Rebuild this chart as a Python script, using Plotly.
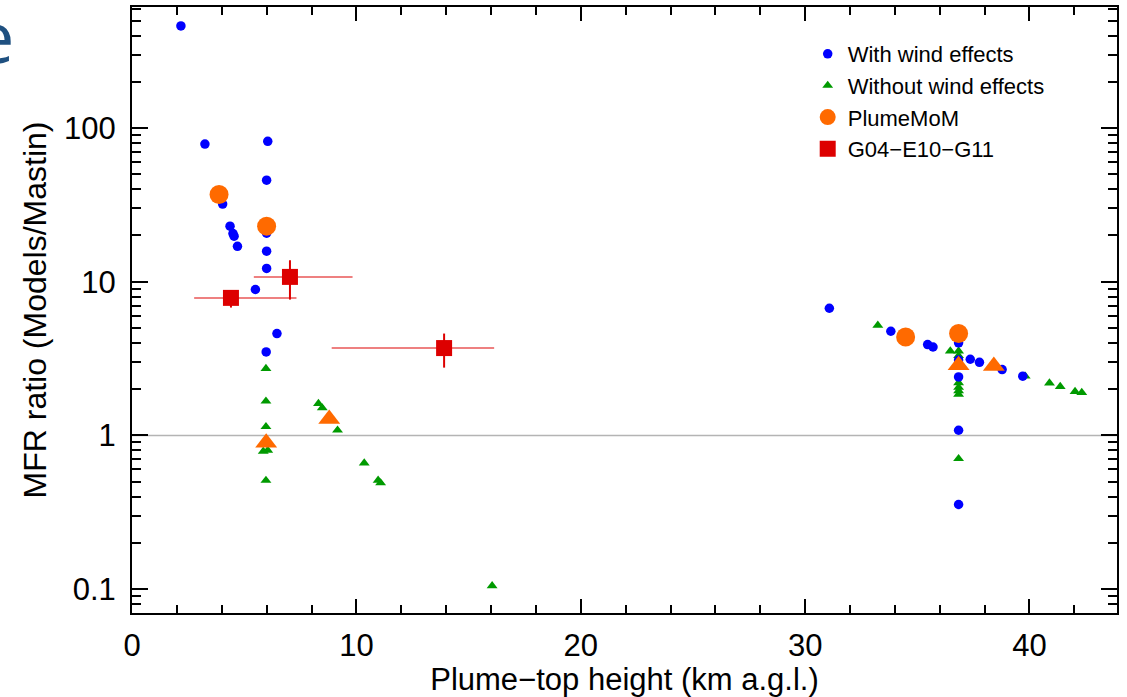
import plotly.graph_objects as go

# ---------------- data ----------------
wind_x = [2.18, 3.25, 4.04, 4.37, 4.5, 4.55, 4.7, 6.05, 6.0, 6.0, 6.0, 6.0, 5.5, 6.46, 5.98,
          31.08, 33.82, 35.46, 35.7, 36.84, 37.36, 37.77, 36.84, 36.84, 38.78, 39.7, 36.84, 36.84]
wind_y = [462, 78.7, 32, 23, 20.6, 19.8, 17, 82, 45.8, 20.7, 15.8, 12.2, 8.9, 4.6, 3.49,
          6.72, 4.76, 3.9, 3.76, 4.0, 3.13, 2.99, 3.09, 2.4, 2.68, 2.43, 1.08, 0.355]

nowind_x = [5.97, 5.97, 5.97, 5.85, 6.05, 5.97, 8.31, 8.48, 9.16, 10.35, 10.97, 11.08, 16.05,
            33.24, 36.47, 36.84, 36.84, 36.84, 36.84, 36.84, 36.84, 36.84,
            39.81, 40.89, 41.37, 42.03, 42.33]
nowind_y = [2.72, 1.67, 1.14, 0.787, 0.80, 0.509, 1.61, 1.51, 1.08, 0.66, 0.51, 0.49, 0.105,
            5.2, 3.54, 3.54, 3.3, 2.2, 2.05, 1.95, 1.85, 0.705,
            2.43, 2.19, 2.08, 1.93, 1.9]

plumemom_x = [3.88, 6.0, 34.48, 36.84]
plumemom_y = [37, 23, 4.37, 4.6]

plumemom_nw_x = [5.98, 8.79, 36.84, 38.41]
plumemom_nw_y = [0.896, 1.28, 2.86, 2.83]

g_x = [4.41, 7.04, 13.91]
g_y = [7.85, 10.75, 3.7]
g_x_lo = [2.77, 5.43, 8.9]
g_x_hi = [7.33, 9.83, 16.14]
g_y_lo = [6.79, 7.65, 2.76]
g_y_hi = [8.6, 13.8, 4.6]

y_tick_vals = [0.1, 1, 10, 100]
y_tick_text = ["0.1", "1", "10", "100"]
x_tick_vals = [0, 10, 20, 30, 40]

FONT = "Liberation Sans, Arial, Helvetica, sans-serif"

fig = go.Figure()

fig.add_trace(go.Scatter(
    x=nowind_x, y=nowind_y, mode="markers", name="Without wind effects", legendrank=2,
    marker=dict(symbol="triangle-up", size=9.5, color="#009a00", line=dict(width=0)),
))
fig.add_trace(go.Scatter(
    x=wind_x, y=wind_y, mode="markers", name="With wind effects", legendrank=1,
    marker=dict(symbol="circle", size=9.5, color="#0000ff", line=dict(width=0)),
))
fig.add_trace(go.Scatter(
    x=plumemom_x, y=plumemom_y, mode="markers", name="PlumeMoM", legendrank=3,
    marker=dict(symbol="circle", size=19, color="#ff6a00", line=dict(width=0)),
))
fig.add_trace(go.Scatter(
    x=plumemom_nw_x, y=plumemom_nw_y, mode="markers", name="PlumeMoM (no wind)", showlegend=False,
    marker=dict(symbol="triangle-up", size=19, color="#ff6a00", line=dict(width=0)),
))
fig.add_trace(go.Scatter(
    x=g_x, y=g_y, mode="markers", name="G04\u2212E10\u2212G11", legendrank=4,
    marker=dict(symbol="square", size=16, color="#dd0000", line=dict(width=0)),
    error_x=dict(type="data", symmetric=False,
                 array=[h - v for h, v in zip(g_x_hi, g_x)],
                 arrayminus=[v - l for l, v in zip(g_x_lo, g_x)],
                 color="rgba(225,30,30,0.75)", thickness=1.5, width=0),
    error_y=dict(type="data", symmetric=False,
                 array=[h - v for h, v in zip(g_y_hi, g_y)],
                 arrayminus=[v - l for l, v in zip(g_y_lo, g_y)],
                 color="#dd0000", thickness=2, width=0),
))

minor_y = [d * 10 ** e for e in range(-2, 3) for d in range(2, 10)]

fig.update_xaxes(
    range=[0, 43.9], tickvals=x_tick_vals, ticks="inside", ticklen=14, tickwidth=1.5,
    tickcolor="black", showline=True, linewidth=2, linecolor="black", mirror="allticks",
    showgrid=False, zeroline=False,
    minor=dict(dtick=2, tick0=0, ticks="inside", ticklen=8, tickwidth=1.5, tickcolor="black", showgrid=False),
    tickfont=dict(family=FONT, size=31, color="black"), ticklabelstandoff=4,
    title=dict(text="Plume\u2212top height (km a.g.l.)", font=dict(family=FONT, size=31, color="black"), standoff=10),
)
fig.update_yaxes(
    type="log", range=[-1.156, 2.788], tickvals=y_tick_vals, ticktext=y_tick_text,
    ticks="inside", ticklen=16, tickwidth=1.5, tickcolor="black",
    showline=True, linewidth=2, linecolor="black", mirror="allticks",
    showgrid=False, zeroline=False,
    minor=dict(tickvals=minor_y, ticks="inside", ticklen=9, tickwidth=1.5, tickcolor="black", showgrid=False),
    tickfont=dict(family=FONT, size=31, color="black"), ticklabelstandoff=8,
    title=dict(text="MFR ratio (Models/Mastin)", font=dict(family=FONT, size=32, color="black"), standoff=8),
)

fig.add_shape(type="line", xref="paper", x0=0, x1=1, yref="y", y0=1, y1=1,
              line=dict(color="#b4b4b4", width=1.5), layer="below")

fig.add_annotation(text="e", xref="paper", yref="paper", x=0, y=1, xanchor="center", yanchor="middle",
                   xshift=-138, yshift=-28, showarrow=False,
                   font=dict(family="Open Sans, sans-serif", size=72, color="#1f5080"))

fig.update_layout(
    width=1127, height=697,
    margin=dict(l=132, r=10, t=7, b=84, autoexpand=False),
    paper_bgcolor="white", plot_bgcolor="white",
    showlegend=True,
    legend=dict(x=0.686, y=0.957, xanchor="left", yanchor="top", bgcolor="rgba(0,0,0,0)",
                font=dict(family=FONT, size=22, color="black"), itemsizing="trace",
                borderwidth=0, tracegroupgap=0),
)

fig.write_html("out.html")
